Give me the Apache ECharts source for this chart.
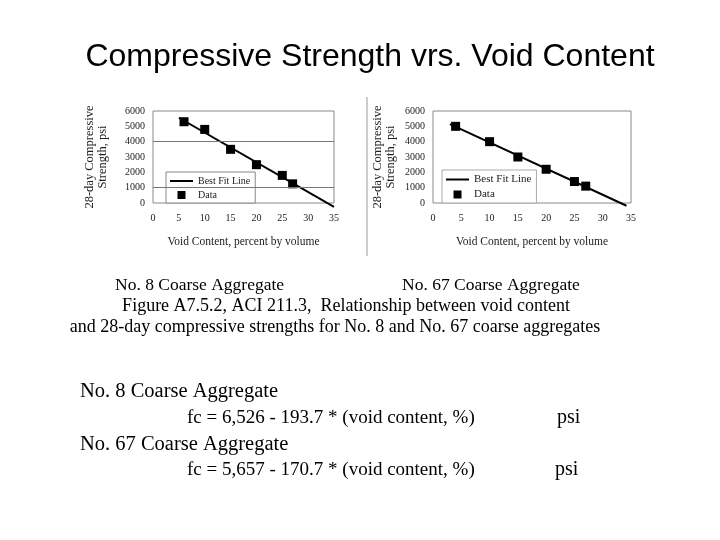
<!DOCTYPE html>
<html>
<head>
<meta charset="utf-8">
<script src="https://cdn.jsdelivr.net/npm/echarts@6/dist/echarts.min.js"></script>
<style>
  html, body { margin: 0; padding: 0; background: #fff; }
  #main { width: 720px; height: 540px; }
</style>
</head>
<body>
<div id="main"></div>
<script>
// No. 8 coarse aggregate (left chart)
const voidNo8 = [6, 10, 15, 20, 25, 27]
const strengthNo8 = [5300, 4800, 3500, 2500, 1800, 1250]
const fitNo8X = [5, 35]
const fitNo8Y = [5560, -250]
const gridValuesNo8 = [1000, 4000]

// No. 67 coarse aggregate (right chart)
const voidNo67 = [4, 10, 15, 20, 25, 27]
const strengthNo67 = [5000, 4000, 3000, 2200, 1400, 1100]
const fitNo67X = [3, 34.2]
const fitNo67Y = [5140, -180]

const legendNames = ['Best Fit Line', 'Data']

const serif = 'Liberation Serif'
const zip = (xs, ys) => xs.map((x, i) => [x, ys[i]])

const chart = echarts.init(document.getElementById('main'))

// shared axis look
const xAxisBase = {
  type: 'value', min: 0, max: 35, interval: 5,
  axisLine: { show: false }, axisTick: { show: false }, splitLine: { show: false },
  axisLabel: { color: '#222', fontFamily: serif, fontSize: 10, margin: 10 },
  name: 'Void Content, percent by volume',
  nameLocation: 'middle', nameGap: 33,
  nameTextStyle: { color: '#222', fontFamily: serif, fontSize: 11.5 }
}
const yAxisBase = {
  type: 'value', min: 0, max: 6000, interval: 1000,
  axisLine: { show: false }, axisTick: { show: false }, splitLine: { show: false },
  axisLabel: { color: '#222', fontFamily: serif, fontSize: 10, margin: 8, formatter: v => String(v) },
  name: '28-day Compressive\nStrength, psi',
  nameLocation: 'middle', nameRotate: 90,
  nameTextStyle: { color: '#222', fontFamily: serif, fontSize: 12.5, lineHeight: 13 }
}
const legendBase = {
  orient: 'vertical',
  data: [
    { name: legendNames[0], icon: 'path://M0,0h23v2h-23z' },
    { name: legendNames[1], icon: 'path://M0,0h8v8h-8z' }
  ],
  itemWidth: 23, itemHeight: 8, itemGap: 4,
  symbolKeepAspect: true,
  backgroundColor: '#fff', borderColor: '#888', borderWidth: 1,
  padding: [4, 5, 3, 4],
  selectedMode: false,
  textStyle: { color: '#222', fontFamily: serif, fontSize: 10 }
}

const caption = (text, x, y, size, align) => ({
  type: 'text',
  style: {
    x: x, y: y, text: text, fill: '#000',
    font: size + 'px "' + serif + '"',
    textAlign: align || 'left', textVerticalAlign: 'middle'
  }
})

const option = {
  backgroundColor: '#fff',
  animation: false,
  grid: [
    { left: 153, top: 111, width: 181, height: 92, show: true, borderColor: '#888', borderWidth: 1 },
    { left: 433, top: 111, width: 198, height: 92, show: true, borderColor: '#888', borderWidth: 1 }
  ],
  xAxis: [
    Object.assign({}, xAxisBase, { gridIndex: 0 }),
    Object.assign({}, xAxisBase, { gridIndex: 1 })
  ],
  yAxis: [
    Object.assign({}, yAxisBase, { gridIndex: 0, nameGap: 44 }),
    Object.assign({}, yAxisBase, { gridIndex: 1, nameGap: 36 })
  ],
  legend: [
    Object.assign({}, legendBase, { left: 166, top: 172 }),
    Object.assign({}, legendBase, { left: 442, top: 170, borderColor: '#aaa',
      textStyle: { color: '#222', fontFamily: serif, fontSize: 11 } })
  ],
  series: [
    {
      name: 'Best Fit Line', type: 'line', xAxisIndex: 0, yAxisIndex: 0,
      data: zip(fitNo8X, fitNo8Y), symbol: 'none', clip: false,
      lineStyle: { color: '#000', width: 2 }, itemStyle: { color: '#000' },
      markLine: {
        silent: true, symbol: 'none', label: { show: false },
        lineStyle: { color: '#777', width: 1, type: 'solid' },
        data: gridValuesNo8.map(v => ({ yAxis: v }))
      },
      z: 3
    },
    {
      name: 'Data', type: 'scatter', xAxisIndex: 0, yAxisIndex: 0,
      data: zip(voidNo8, strengthNo8), symbol: 'rect', symbolSize: 9,
      itemStyle: { color: '#000', opacity: 1 }, z: 3
    },
    {
      name: 'Best Fit Line', type: 'line', xAxisIndex: 1, yAxisIndex: 1,
      data: zip(fitNo67X, fitNo67Y), symbol: 'none', clip: false,
      lineStyle: { color: '#000', width: 2 }, itemStyle: { color: '#000' }, z: 3
    },
    {
      name: 'Data', type: 'scatter', xAxisIndex: 1, yAxisIndex: 1,
      data: zip(voidNo67, strengthNo67), symbol: 'rect', symbolSize: 9,
      itemStyle: { color: '#000', opacity: 1 }, z: 3
    }
  ],
  graphic: [
    {
      type: 'text',
      style: {
        x: 370, y: 57, text: 'Compressive Strength vrs. Void Content', fill: '#000',
        font: '32px "Liberation Sans"', textAlign: 'center', textVerticalAlign: 'middle'
      }
    },
    // separator between the two scanned charts
    {
      type: 'line', shape: { x1: 367, y1: 97, x2: 367, y2: 256 },
      style: { stroke: '#999', lineWidth: 1 }
    },
    caption('No. 8 Coarse Aggregate', 115, 285, 17.5),
    caption('No. 67 Coarse Aggregate', 402, 285, 17.5),
    caption('Figure A7.5.2, ACI 211.3,  Relationship between void content', 346, 306, 18, 'center'),
    caption('and 28-day compressive strengths for No. 8 and No. 67 coarse aggregates', 335, 327, 18, 'center'),
    caption('No. 8 Coarse Aggregate', 80, 392, 20.5),
    caption('fc = 6,526 - 193.7 * (void content, %)', 187, 418, 19),
    caption('psi', 557, 418, 20),
    caption('No. 67 Coarse Aggregate', 80, 445, 20.5),
    caption('fc = 5,657 - 170.7 * (void content, %)', 187, 470, 19),
    caption('psi', 555, 470, 20)
  ]
}

chart.setOption(option)
</script>
</body>
</html>
